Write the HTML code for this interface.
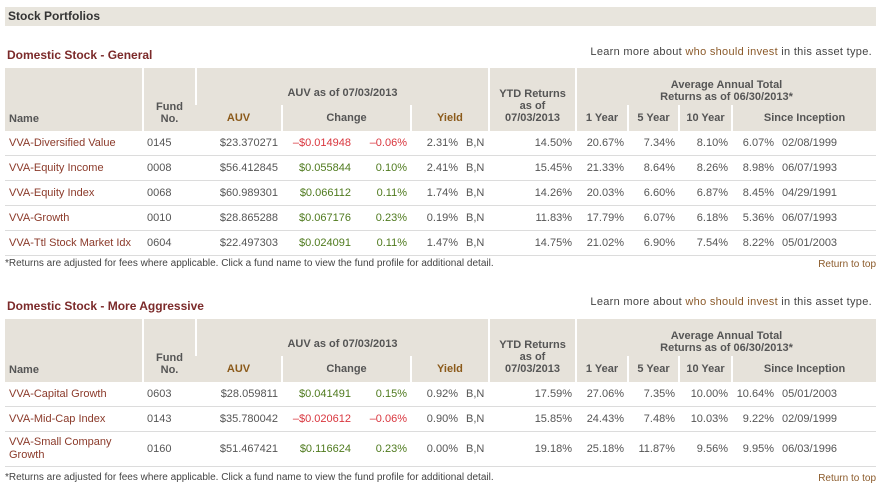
<!DOCTYPE html>
<html><head><meta charset="utf-8">
<style>
body{margin:0;width:882px;height:498px;background:#fff;font-family:"Liberation Sans",Arial,sans-serif;font-size:11px;color:#555;position:relative;overflow:hidden}
.bar{position:absolute;left:5px;top:7px;width:871px;height:19px;background:#e8e5dd;font-weight:bold;font-size:12px;color:#333;line-height:19px;padding-left:3px;box-sizing:border-box}
.sec{position:absolute;left:7px;font-weight:bold;font-size:12px;color:#7b2a2a}
.learn{position:absolute;right:10px;font-size:11px;color:#444;letter-spacing:.3px}
.learn a{color:#8b5a2a;text-decoration:none}
table{position:absolute;left:5px;width:871px;border-collapse:collapse;table-layout:fixed}
th{background:#e6e2da;font-weight:bold;color:#555;border-left:2px solid #fff;padding:0 4px;font-size:11px}
th:first-child{border-left:none}
th.br{color:#8b5a1a}
td{border-bottom:1px solid #dcdcdc;height:24px;padding:0 4px;white-space:nowrap;color:#555}
td.r{text-align:right}
td.n a{color:#8b3a2a;text-decoration:none}
.g{color:#4f7a1e}.red{color:#d9363e}
.foot{position:absolute;left:5px;font-size:10px;color:#444}
.top{position:absolute;right:6px;font-size:10px;color:#8b5a2a}
</style></head><body>
<div class="bar">Stock Portfolios</div>

<div class="sec" style="top:48px">Domestic Stock - General</div>
<div class="learn" style="top:46px">Learn more about <a href="#">who should invest</a> in this asset type.</div>

<table style="top:68px">
<colgroup><col style="width:138px"><col style="width:53px"><col style="width:86px"><col style="width:73px"><col style="width:56px"><col style="width:51px"><col style="width:27px"><col style="width:87px"><col style="width:52px"><col style="width:51px"><col style="width:53px"><col style="width:46px"><col style="width:98px"></colgroup>
<tr style="height:37px"><th rowspan="2" style="text-align:left;vertical-align:bottom;padding-bottom:6px">Name</th><th rowspan="2" style="vertical-align:bottom;padding-bottom:6px">Fund<br>No.</th><th colspan="5" style="vertical-align:middle;padding-top:12px">AUV as of 07/03/2013</th><th rowspan="2" style="vertical-align:middle;padding-top:12px">YTD Returns<br>as of<br>07/03/2013</th><th colspan="5" style="vertical-align:bottom;padding-bottom:2px">Average Annual Total<br>Returns as of 06/30/2013*</th></tr>
<tr style="height:26px"><th class="br">AUV</th><th colspan="2">Change</th><th colspan="2" class="br" style="text-align:left;padding-left:25px">Yield</th><th>1 Year</th><th>5 Year</th><th>10 Year</th><th colspan="2">Since Inception</th></tr>
<tr><td class="n"><a href="#">VVA-Diversified Value</a></td><td>0145</td><td class="r">$23.370271</td><td class="r red">–$0.014948</td><td class="r red">–0.06%</td><td class="r">2.31%</td><td>B,N</td><td class="r">14.50%</td><td class="r">20.67%</td><td class="r">7.34%</td><td class="r">8.10%</td><td class="r">6.07%</td><td>02/08/1999</td></tr>
<tr><td class="n"><a href="#">VVA-Equity Income</a></td><td>0008</td><td class="r">$56.412845</td><td class="r g">$0.055844</td><td class="r g">0.10%</td><td class="r">2.41%</td><td>B,N</td><td class="r">15.45%</td><td class="r">21.33%</td><td class="r">8.64%</td><td class="r">8.26%</td><td class="r">8.98%</td><td>06/07/1993</td></tr>
<tr><td class="n"><a href="#">VVA-Equity Index</a></td><td>0068</td><td class="r">$60.989301</td><td class="r g">$0.066112</td><td class="r g">0.11%</td><td class="r">1.74%</td><td>B,N</td><td class="r">14.26%</td><td class="r">20.03%</td><td class="r">6.60%</td><td class="r">6.87%</td><td class="r">8.45%</td><td>04/29/1991</td></tr>
<tr><td class="n"><a href="#">VVA-Growth</a></td><td>0010</td><td class="r">$28.865288</td><td class="r g">$0.067176</td><td class="r g">0.23%</td><td class="r">0.19%</td><td>B,N</td><td class="r">11.83%</td><td class="r">17.79%</td><td class="r">6.07%</td><td class="r">6.18%</td><td class="r">5.36%</td><td>06/07/1993</td></tr>
<tr><td class="n"><a href="#">VVA-Ttl Stock Market Idx</a></td><td>0604</td><td class="r">$22.497303</td><td class="r g">$0.024091</td><td class="r g">0.11%</td><td class="r">1.47%</td><td>B,N</td><td class="r">14.75%</td><td class="r">21.02%</td><td class="r">6.90%</td><td class="r">7.54%</td><td class="r">8.22%</td><td>05/01/2003</td></tr>
</table>
<div class="foot" style="top:258px">*Returns are adjusted for fees where applicable. Click a fund name to view the fund profile for additional detail.</div>
<div class="top" style="top:259px">Return to top</div>

<div class="sec" style="top:299px">Domestic Stock - More Aggressive</div>
<div class="learn" style="top:296px">Learn more about <a href="#">who should invest</a> in this asset type.</div>

<table style="top:319px">
<colgroup><col style="width:138px"><col style="width:53px"><col style="width:86px"><col style="width:73px"><col style="width:56px"><col style="width:51px"><col style="width:27px"><col style="width:87px"><col style="width:52px"><col style="width:51px"><col style="width:53px"><col style="width:46px"><col style="width:98px"></colgroup>
<tr style="height:37px"><th rowspan="2" style="text-align:left;vertical-align:bottom;padding-bottom:6px">Name</th><th rowspan="2" style="vertical-align:bottom;padding-bottom:6px">Fund<br>No.</th><th colspan="5" style="vertical-align:middle;padding-top:12px">AUV as of 07/03/2013</th><th rowspan="2" style="vertical-align:middle;padding-top:12px">YTD Returns<br>as of<br>07/03/2013</th><th colspan="5" style="vertical-align:bottom;padding-bottom:2px">Average Annual Total<br>Returns as of 06/30/2013*</th></tr>
<tr style="height:26px"><th class="br">AUV</th><th colspan="2">Change</th><th colspan="2" class="br" style="text-align:left;padding-left:25px">Yield</th><th>1 Year</th><th>5 Year</th><th>10 Year</th><th colspan="2">Since Inception</th></tr>
<tr><td class="n"><a href="#">VVA-Capital Growth</a></td><td>0603</td><td class="r">$28.059811</td><td class="r g">$0.041491</td><td class="r g">0.15%</td><td class="r">0.92%</td><td>B,N</td><td class="r">17.59%</td><td class="r">27.06%</td><td class="r">7.35%</td><td class="r">10.00%</td><td class="r">10.64%</td><td>05/01/2003</td></tr>
<tr><td class="n"><a href="#">VVA-Mid-Cap Index</a></td><td>0143</td><td class="r">$35.780042</td><td class="r red">–$0.020612</td><td class="r red">–0.06%</td><td class="r">0.90%</td><td>B,N</td><td class="r">15.85%</td><td class="r">24.43%</td><td class="r">7.48%</td><td class="r">10.03%</td><td class="r">9.22%</td><td>02/09/1999</td></tr>
<tr style="height:35px"><td class="n" style="white-space:normal;line-height:13px"><a href="#">VVA-Small Company Growth</a></td><td>0160</td><td class="r">$51.467421</td><td class="r g">$0.116624</td><td class="r g">0.23%</td><td class="r">0.00%</td><td>B,N</td><td class="r">19.18%</td><td class="r">25.18%</td><td class="r">11.87%</td><td class="r">9.56%</td><td class="r">9.95%</td><td>06/03/1996</td></tr>
</table>
<div class="foot" style="top:472px">*Returns are adjusted for fees where applicable. Click a fund name to view the fund profile for additional detail.</div>
<div class="top" style="top:473px">Return to top</div>
</body></html>
